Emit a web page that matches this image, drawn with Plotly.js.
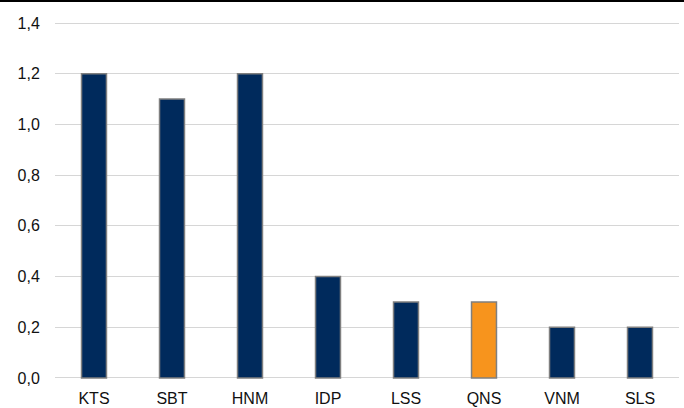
<!DOCTYPE html>
<html>
<head>
<meta charset="utf-8">
<script src="https://cdn.plot.ly/plotly-3.0.1.min.js"></script>
<style>
  html, body { margin: 0; padding: 0; background: #fff; }
  #wrap { position: relative; width: 684px; height: 408px; }
  #chart { width: 684px; height: 408px; }
  #topline { position: absolute; left: 0; top: 0; width: 684px; height: 2px; background: #000; }
</style>
</head>
<body>
<div id="wrap">
  <div id="chart"></div>
  <div id="topline"></div>
</div>
<script>
// Ticker codes and their values
const tickers = ['KTS', 'SBT', 'HNM', 'IDP', 'LSS', 'QNS', 'VNM', 'SLS'];
const values = [1.2, 1.1, 1.2, 0.4, 0.3, 0.3, 0.2, 0.2];
const highlight = 'QNS';
const yTicks = [0, 0.2, 0.4, 0.6, 0.8, 1.0, 1.2, 1.4];

const navy = '#002a5c';
const orange = '#f7941d';
const barColors = tickers.map(t => t === highlight ? orange : navy);

const trace = {
  type: 'bar',
  x: tickers,
  y: values,
  marker: { color: barColors, line: { color: '#7f7f7f', width: 1.5 } },
  width: 0.32,
  hoverinfo: 'x+y'
};

// pad the range a hair so the first and last gridlines stay visible
const pad = 0.004;

const layout = {
  width: 684,
  height: 408,
  margin: { l: 55, r: 5, t: 22, b: 29 },
  paper_bgcolor: '#ffffff',
  plot_bgcolor: '#ffffff',
  separators: ', ',
  showlegend: false,
  font: { family: 'Liberation Sans, Arial, sans-serif', size: 16, color: '#111111' },
  xaxis: {
    type: 'category',
    showgrid: false,
    zeroline: false,
    showline: false,
    ticks: 'outside',
    ticklen: 5,
    tickcolor: 'rgba(0,0,0,0)',
    tickfont: { size: 16 }
  },
  yaxis: {
    range: [-pad, 1.4 + pad],
    tickvals: yTicks,
    tickformat: '.1f',
    showgrid: true,
    gridcolor: '#d6d6d6',
    gridwidth: 1,
    zeroline: false,
    showline: false,
    ticks: 'outside',
    ticklen: 11,
    tickcolor: 'rgba(0,0,0,0)',
    tickfont: { size: 16 }
  }
};

Plotly.newPlot('chart', [trace], layout, { displayModeBar: false, staticPlot: true });
</script>
</body>
</html>
